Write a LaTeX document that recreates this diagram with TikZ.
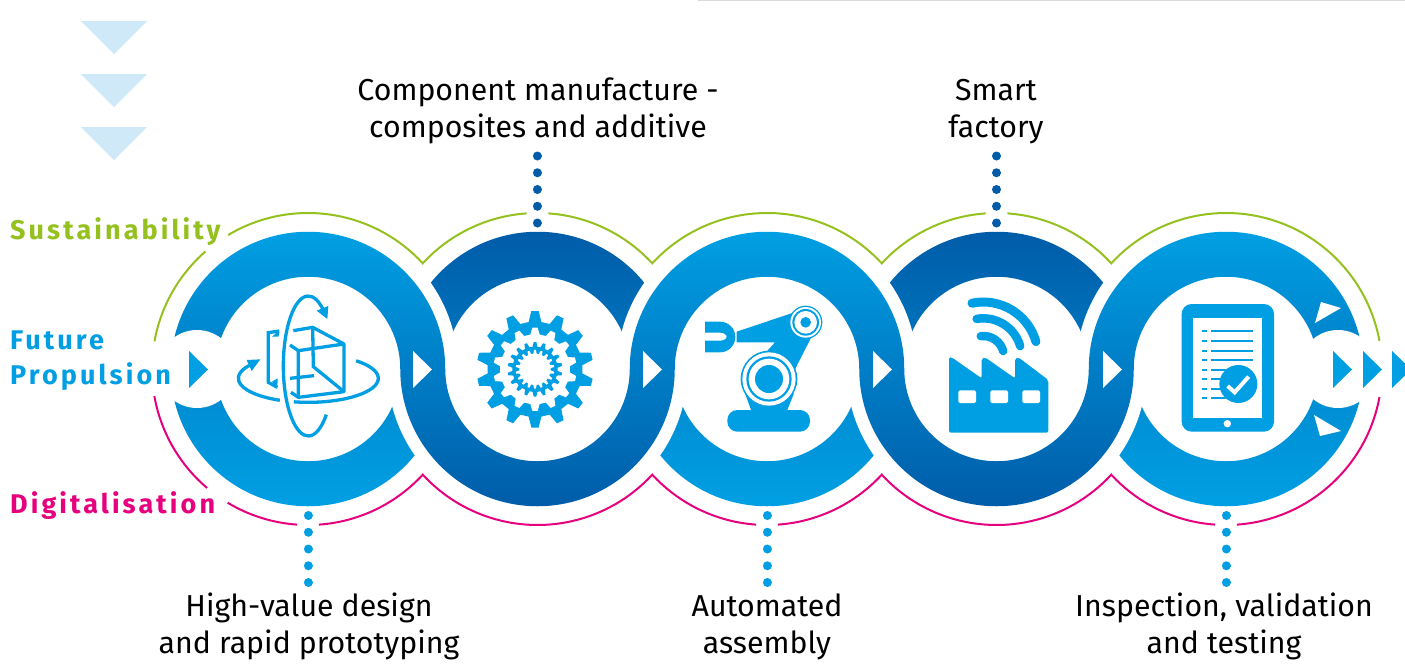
\documentclass[tikz,border=0pt]{standalone}
\usepackage{fontspec}
\setmainfont{Fira Sans}
\newfontfamily\labfont[LetterSpace=11.4]{Fira Sans Bold}
\definecolor{lightblue}{HTML}{009FE3}
\definecolor{darkblue}{HTML}{005CA9}
\definecolor{midblue}{HTML}{0079C1}
\definecolor{paleblue}{HTML}{CFE9F9}
\definecolor{leaf}{HTML}{95C11F}
\definecolor{magentapink}{HTML}{E6007E}
\tikzset{
  caption/.style={inner sep=0pt,align=center,text=black,font=\fontsize{30.3}{37}\selectfont},
  sidelabel/.style={inner sep=0pt,anchor=base west,font=\labfont\fontsize{27}{35}\selectfont},
  greenarc/.style={draw=leaf,line width=2pt},
  pinkarc/.style={draw=magentapink,line width=2pt},
  darkdots/.style={draw=darkblue,line width=9pt,line cap=round,dash pattern=on 0.01pt off 16.74pt},
  lightdots/.style={draw=lightblue,line width=9pt,line cap=round,dash pattern=on 0.01pt off 16.74pt},
  iconline/.style={draw=lightblue,line width=3.3pt},
  iconfill/.style={fill=lightblue},
  chevron/.style={fill=paleblue},
}
\newcommand\gearpoly[5]{%
  \pgfmathsetmacro\gs{360/#1}%
  \fill[#5] ({#4-0.3*\gs}:#3) \foreach \i in {1,...,#1} {
    -- ({(\i-1)*\gs+#4-0.3*\gs}:#3) -- ({(\i-1)*\gs+#4-0.14*\gs}:#2)
    -- ({(\i-1)*\gs+#4+0.14*\gs}:#2) -- ({(\i-1)*\gs+#4+0.3*\gs}:#3) } -- cycle;}
\begin{document}
\begin{tikzpicture}[x=1pt,y=1pt,yscale=-1]
\useasboundingbox (0,0) rectangle (1405,667);
\fill[white] (0,0) rectangle (1405,667);
\def\R{137.25pt}\def\r{92.25pt}
% top rule
\draw[draw=black!15,line width=2pt] (698,0) -- (1405,0);
% chevrons
\fill[chevron] (81,21) -- (147,21) -- (114,54) -- cycle;
\fill[chevron] (81,74) -- (147,74) -- (114,107) -- cycle;
\fill[chevron] (81,127) -- (147,127) -- (114,160) -- cycle;
% upper crescents
\shade[top color=darkblue,bottom color=midblue]
  (400.25,369) arc[start angle=180,end angle=360,radius=\R] -- (629.75,369) arc[start angle=360,end angle=180,radius=\r] -- cycle;
\shade[top color=darkblue,bottom color=midblue]
  (859.25,369) arc[start angle=180,end angle=360,radius=\R] -- (1088.75,369) arc[start angle=360,end angle=180,radius=\r] -- cycle;
\begin{scope}
  \clip (100,100) rectangle (1405,369);
  \fill[white] (308,369) circle[radius=150pt] (767,369) circle[radius=150pt] (1226,369) circle[radius=150pt];
\end{scope}
% lower crescents
\shade[top color=midblue!60!lightblue,bottom color=lightblue]
  (170.75,369) arc[start angle=180,end angle=0,radius=\R] -- (400.25,369) arc[start angle=0,end angle=180,radius=\r] -- cycle;
\shade[top color=midblue!60!lightblue,bottom color=lightblue]
  (629.75,369) arc[start angle=180,end angle=0,radius=\R] -- (859.25,369) arc[start angle=0,end angle=180,radius=\r] -- cycle;
\shade[top color=midblue!60!lightblue,bottom color=lightblue]
  (1088.75,369) arc[start angle=180,end angle=0,radius=\R] -- (1318.25,369) arc[start angle=0,end angle=180,radius=\r] -- cycle;
\begin{scope}
  \clip (100,369) rectangle (1405,600);
  \fill[white] (537.5,369) circle[radius=150pt] (996.5,369) circle[radius=150pt];
\end{scope}
% ribbon
\shade[top color=lightblue,bottom color=darkblue]
  (170.75,369) arc[start angle=180,end angle=360,radius=\R]
  arc[start angle=180,end angle=0,radius=\r]
  arc[start angle=180,end angle=360,radius=\R]
  arc[start angle=180,end angle=0,radius=\r]
  arc[start angle=180,end angle=360,radius=\R]
  -- (1318.25,369)
  arc[start angle=360,end angle=180,radius=\r]
  arc[start angle=0,end angle=180,radius=\R]
  arc[start angle=360,end angle=180,radius=\r]
  arc[start angle=0,end angle=180,radius=\R]
  arc[start angle=360,end angle=180,radius=\r]
  -- cycle;
% end bumps
\fill[white] (197,369) circle[radius=39pt] (1338,369) circle[radius=39pt];
% green arcs
\draw[greenarc] (308,369) ++(190.2:156) arc[start angle=190.2,end angle=228.9,radius=156pt];
\draw[greenarc] (308,369) ++(239.2:156) arc[start angle=239.2,end angle=317.36,radius=156pt]
  arc[start angle=222.64,end angle=266,radius=156pt];
\draw[greenarc] (537.5,369) ++(274:156) arc[start angle=274,end angle=317.36,radius=156pt]
  arc[start angle=222.64,end angle=317.36,radius=156pt]
  arc[start angle=222.64,end angle=266,radius=156pt];
\draw[greenarc] (996.5,369) ++(274:156) arc[start angle=274,end angle=317.36,radius=156pt]
  arc[start angle=222.64,end angle=349.6,radius=156pt];
% pink arcs
\draw[pinkarc] (308,369) ++(170:156) arc[start angle=170,end angle=130.3,radius=156pt];
\draw[pinkarc] (308,369) ++(121:156) arc[start angle=121,end angle=94,radius=156pt];
\draw[pinkarc] (308,369) ++(86:156) arc[start angle=86,end angle=42.64,radius=156pt]
  arc[start angle=137.36,end angle=42.64,radius=156pt]
  arc[start angle=137.36,end angle=94,radius=156pt];
\draw[pinkarc] (767,369) ++(86:156) arc[start angle=86,end angle=42.64,radius=156pt]
  arc[start angle=137.36,end angle=42.64,radius=156pt]
  arc[start angle=137.36,end angle=94,radius=156pt];
\draw[pinkarc] (1226,369) ++(86:156) arc[start angle=86,end angle=10.4,radius=156pt];
% arrow triangles
\foreach \tx in {413,643,873,1103}
  \fill[white] (\tx,351) -- ({\tx+19},369.5) -- (\tx,388) -- cycle;
\foreach \tx in {189,1333,1363}
  \fill[lightblue] (\tx,351) -- ({\tx+19},369.5) -- (\tx,388) -- cycle;
\fill[lightblue] (1392,351) -- (1405,363.5) -- (1405,375.5) -- (1392,388) -- cycle;
\fill[white] (1321,302) -- (1341,308) -- (1315,323) -- cycle;
\fill[white] (1314,415) -- (1341,431) -- (1320,436) -- cycle;
% ---- cube icon
\begin{scope}[shift={(140,200)},scale=0.33333]
  \draw[iconline] (505,498) ++(44:75 and 210) arc[start angle=44,end angle=312,x radius=75,y radius=210];
  \fill[iconfill] (530,332) -- (565,318) -- (562,357) -- cycle;
  \draw[iconline] (505,535) ++(102:210 and 72) arc[start angle=102,end angle=-47,x radius=210,y radius=72];
  \draw[iconline] (505,535) ++(114:210 and 72) arc[start angle=114,end angle=216,x radius=210,y radius=72];
  \fill[iconfill] (320,480) -- (361,478) -- (335,513) -- cycle;
  \draw[iconline,line join=round] (460,392) -- (518,382) -- (612,432) -- (612,575) -- (475,592) -- (475,452) -- (612,432);
  \draw[iconline] (518,382) -- (520,500) -- (612,575);
  \draw[iconline] (450,535) -- (522,527);
  \draw[iconline] (450,435) -- (475,452);
  \draw[iconline] (453,577) -- (475,592);
  \draw[iconline] (418,393) -- (385,398) -- (385,547) -- (412,562);
  \fill[iconfill] (396,410) -- (417,392) -- (416,410) -- cycle;
  \fill[iconfill] (396,545) -- (413,535) -- (412,565) -- cycle;
\end{scope}
% ---- gear icon
\begin{scope}[shift={(535,369.3)},scale=0.33333]
  \gearpoly{14}{175}{143}{270}{lightblue}
  \gearpoly{14}{125}{105}{270}{white}
  \gearpoly{18}{82}{68}{270}{lightblue}
  \gearpoly{18}{58}{47}{270}{white}
\end{scope}
% ---- robot icon
\begin{scope}[shift={(440,280)},scale=0.33333]
  \fill[iconfill] (795,125) -- (840,125) arc[start angle=270,end angle=450,radius=46] -- (795,217) -- (795,182) -- (840,182) arc[start angle=90,end angle=-90,x radius=20,y radius=12] -- (795,158) -- cycle;
  \fill[iconfill] (890,155) -- (1060,98) -- (1125,150) -- (1065,268) -- (975,220) -- (1005,187) -- (890,187) -- cycle;
  \fill[iconfill] (915,340) -- (1062,340) -- (1040,395) -- (935,395) -- cycle;
  \fill[iconfill] (862,420) arc[start angle=180,end angle=270,radius=30] -- (1080,390) arc[start angle=270,end angle=360,radius=30] -- (1110,425) arc[start angle=0,end angle=90,radius=30] -- (892,455) arc[start angle=90,end angle=180,radius=30] -- cycle;
  \fill[lightblue] (987,297) circle[radius=85];
  \fill[white] (987,297) circle[radius=80];
  \fill[lightblue] (987,297) circle[radius=68];
  \fill[white] (987,297) circle[radius=61];
  \fill[lightblue] (987,297) circle[radius=42];
  \fill[lightblue] (1097,127) circle[radius=50];
  \fill[white] (1097,127) circle[radius=46];
  \fill[lightblue] (1097,127) circle[radius=40];
  \fill[white] (1097,127) circle[radius=34];
  \fill[lightblue] (1097,127) circle[radius=16];
\end{scope}
% ---- factory icon
\begin{scope}[shift={(900,260)},scale=0.33333]
  \fill[iconfill,rounded corners=2pt] (147,518) -- (147,292) -- (155,292) -- (245,355) -- (245,295) -- (255,292) -- (345,355) -- (345,295) -- (355,292) -- (445,360) -- (445,518) -- cycle;
  \fill[white,rounded corners=1.5pt] (175,391) rectangle (228,429);
  \fill[white,rounded corners=1.5pt] (271,391) rectangle (324,429);
  \fill[white,rounded corners=1.5pt] (367,391) rectangle (420,429);
  \draw[draw=lightblue,line width=9pt,line cap=round] (250,290) ++(258:164) arc[start angle=258,end angle=344,radius=164];
  \draw[draw=lightblue,line width=8.5pt,line cap=round] (250,290) ++(260:115) arc[start angle=260,end angle=344,radius=115];
  \draw[draw=lightblue,line width=8.5pt,line cap=round] (250,290) ++(263:62) arc[start angle=263,end angle=344,radius=62];
\end{scope}
% ---- tablet icon
\begin{scope}[shift={(900,260)},scale=0.33333]
  \fill[iconfill,rounded corners=10pt] (845,132) rectangle (1122,515);
  \fill[white] (879,174) rectangle (1086,473);
  \fill[white] (982,491) circle[radius=11];
  \foreach \ly in {214,243,272,300,329,357,386,415} {
    \draw[draw=lightblue,line width=1.7pt] (906,\ly) -- (921,\ly);
  }
  \foreach \ly in {214,243,272,300} {
    \draw[draw=lightblue,line width=1.7pt] (932,\ly) -- (1059,\ly);
  }
  \foreach \ly in {329,357,386,415} {
    \draw[draw=lightblue,line width=1.7pt] (932,\ly) -- (985,\ly);
  }
  \fill[lightblue] (1015,372) circle[radius=57];
  \draw[draw=white,line width=4pt] (983,378) -- (1004,397) -- (1046,350);
\end{scope}
% ---- labels
\node[sidelabel,text=leaf] (sust) at (10,239) {Sustainability};
\node[sidelabel,text=lightblue] (future) at (10,349) {Future};
\node[sidelabel,text=lightblue] (prop) at (10,384) {Propulsion};
\node[sidelabel,text=magentapink] (digi) at (10,513) {Digitalisation};
\node[caption] (comp) at (538,112) {\strut Component manufacture -\\\strut composites and additive};
\node[caption] (smart) at (996,112) {\strut Smart\\\strut factory};
\node[caption] (high) at (309,628) {\strut High-value design\\\strut and rapid prototyping};
\node[caption] (auto) at (767,628) {\strut Automated\\\strut assembly};
\node[caption] (insp) at (1224,628) {\strut Inspection, validation\\\strut and testing};
% ---- dotted connectors
\coordinate (d1a) at (537,156); \coordinate (d1b) at (537,223.5);
\coordinate (d2a) at (996.5,156); \coordinate (d2b) at (996.5,223.5);
\coordinate (d3a) at (308,515.5); \coordinate (d3b) at (308,583);
\coordinate (d4a) at (767,515.5); \coordinate (d4b) at (767,583);
\coordinate (d5a) at (1226,515.5); \coordinate (d5b) at (1226,583);
\draw[darkdots] (d1a) -- (d1b);
\draw[darkdots] (d2a) -- (d2b);
\draw[lightdots] (d3a) -- (d3b);
\draw[lightdots] (d4a) -- (d4b);
\draw[lightdots] (d5a) -- (d5b);
\end{tikzpicture}
\end{document}
